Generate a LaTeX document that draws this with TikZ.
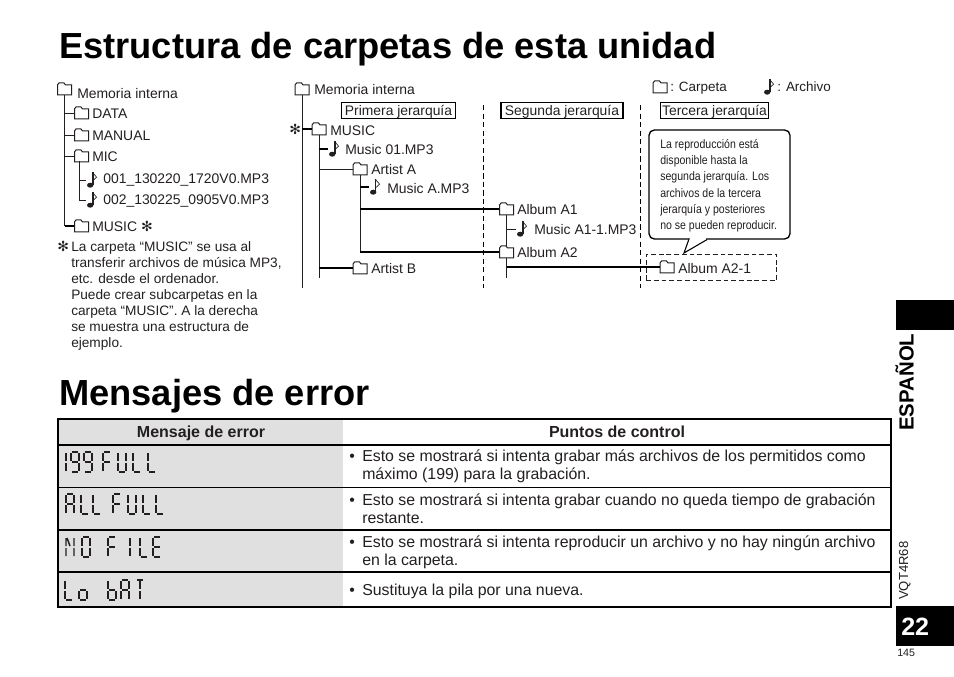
\documentclass[tikz,border=0pt]{standalone}
\usepackage{fontspec}
\setmainfont{Liberation Sans}
\newfontfamily\narrowfont[FakeStretch=0.86]{Liberation Sans}
\newfontfamily\symfont{DejaVu Sans}
\usetikzlibrary{calc}
\definecolor{inkcol}{HTML}{231F20}
\definecolor{cellgray}{HTML}{E0E0E0}
\tikzset{
    seg a/.style={insert path={(1,0)--(7,0)}},
    seg b/.style={insert path={(8,1)--(8,9)}},
    seg c/.style={insert path={(8,11)--(8,19)}},
    seg d/.style={insert path={(1,20)--(7,20)}},
    seg e/.style={insert path={(0,11)--(0,19)}},
    seg f/.style={insert path={(0,1)--(0,9)}},
    seg g/.style={insert path={(1,10)--(7,10)}},
    seg t/.style={insert path={(4,1)--(4,9) (4,11)--(4,19)}},
    seg n/.style={insert path={(1,1)--(4,9)}},
    lcd 1/.style={seg b,seg c},
    lcd 9/.style={seg a,seg b,seg c,seg d,seg f,seg g},
    lcd F/.style={seg a,seg e,seg f,seg g},
    lcd U/.style={seg b,seg c,seg d,seg e,seg f},
    lcd L/.style={seg d,seg e,seg f},
    lcd A/.style={seg a,seg b,seg c,seg e,seg f,seg g},
    lcd N/.style={seg b,seg c,seg e,seg f,seg n},
    lcd O/.style={seg a,seg b,seg c,seg d,seg e,seg f},
    lcd I/.style={seg t},
    lcd E/.style={seg a,seg d,seg e,seg f,seg g},
    lcd o/.style={seg c,seg d,seg e,seg g},
    lcd b/.style={seg c,seg d,seg e,seg f,seg g},
    lcd T/.style={seg a,seg t}
}
\newcommand{\lcdword}[2]{\foreach \cx/\ch in {#2}{\draw[lcdline,shift={(\cx,#1)},lcd \ch];}}
\newcommand{\folder}[2]{\node[foldbox] (#1) at #2 {};
    \draw[foldline,shift={(#1.center)}] (-7,6)--(-7,-4)--(-5.5,-6)--(-0.5,-6)--(1,-4)--(7,-4)--(7,6)--cycle;}
\newcommand{\notefile}[3][1]{\node[notebox] (#2) at #3 {};
    \fill[inkcol,shift={(#2.center)}] (-1.8,5.2) ellipse[x radius=3.2,y radius=2.5];
    \draw[inkcol,line width=#1pt,shift={(#2.center)}] (0.6,5.2)--(0.6,-7.5);
    \draw[inkcol,line width=0.5pt,shift={(#2.center)}] (0.6,-7.5)--(4.6,-2.8)--(0.6,0.8);}
\begin{document}
\begin{tikzpicture}[x=0.75pt,y=-0.75pt,
    title/.style={anchor=base west,inner sep=0,font=\fontsize{27.2}{30}\bfseries,text=black},
    treetext/.style={anchor=base west,inner sep=0,font=\fontsize{10.45}{12}\selectfont,text=inkcol},
    bodytext/.style={anchor=west,inner sep=0,align=left,font=\fontsize{11.9}{13.5}\selectfont,text=inkcol},
    headtext/.style={anchor=base,inner sep=0,font=\fontsize{12}{13}\bfseries,text=inkcol},
    levelbox/.style={draw=black,line width=0.8pt,inner sep=0,minimum height=12.5pt,text height=8.7pt,text depth=1.1pt,font=\fontsize{10.4}{12}\selectfont,text=inkcol},
    foldbox/.style={minimum width=10.5pt,minimum height=9pt,inner sep=0},
    notebox/.style={minimum width=9pt,minimum height=12pt,inner sep=0},
    foldline/.style={draw=inkcol,fill=white,line width=0.75pt},
    thinline/.style={draw=inkcol,line width=0.7pt},
    thickline/.style={draw=black,line width=1.4pt},
    lcdline/.style={draw=inkcol,line width=1.1pt},
    levelline/.style={draw=black,line width=0.7pt,dashed,dash pattern=on 4pt off 2.4pt},
    tablerule/.style={draw=black,line width=0.8pt},
    tableframe/.style={draw=black,line width=1.4pt}
]
    \useasboundingbox (0,0) rectangle (954,677);

    \node[title] (titletree) at (59,59) {Estructura de carpetas de esta unidad};
    \node[title] (titleerror) at (59,406) {Mensajes de error};

    % left tree
    \folder{memleft}{(64.5,89)}
    \folder{data}{(81.5,113)}
    \folder{manual}{(81.5,135)}
    \folder{mic}{(81.5,156)}
    \folder{musicleft}{(81.5,226)}
    \notefile[1.6]{fileone}{(92,180)}
    \notefile[1.6]{filetwo}{(92,200)}
    \coordinate (micdrop) at (79,161);
    \draw[thinline] (memleft.south)--(memleft.south |- musicleft.west);
    \draw[thinline] (memleft.south |- data.west)--(data.west);
    \draw[thinline] (memleft.south |- manual.west)--(manual.west);
    \draw[thinline] (memleft.south |- mic.west)--(mic.west);
    \draw[thickline] (memleft.south |- musicleft.west)--(musicleft.west);
    \draw[thinline] (micdrop)--(micdrop |- filetwo.west)--(filetwo.west);
    \draw[thinline] (micdrop |- fileone.west)--(fileone.west);
    \node[treetext] (memleftlabel) at (77,99) {Memoria interna};
    \node[treetext] (datalabel) at (92,119) {DATA};
    \node[treetext] (manuallabel) at (92,141) {MANUAL};
    \node[treetext] (miclabel) at (92,162) {MIC};
    \node[treetext] (fileonelabel) at (103,184) {001\_130220\_1720V0.MP3};
    \node[treetext] (filetwolabel) at (103,205) {002\_130225\_0905V0.MP3};
    \node[treetext] (musicleftlabel) at (92,232) {MUSIC {\symfont ✻}};
    \node[treetext] (starnote) at (57,252) {{\symfont ✻}};
    \node[treetext,align=left,anchor=north west,font=\fontsize{10.25}{12}\selectfont] (musicnote) at (71,241.5)
        {La carpeta “MUSIC” se usa al\\transferir archivos de música MP3,\\etc. desde el ordenador.\\
         Puede crear subcarpetas en la\\carpeta “MUSIC”. A la derecha\\se muestra una estructura de\\ejemplo.};

    % right tree
    \folder{memright}{(302,89)}
    \folder{musicright}{(319,129)}
    \folder{artista}{(360,169)}
    \folder{artistb}{(360,268)}
    \folder{albumone}{(506.5,209)}
    \folder{albumtwo}{(506.5,252)}
    \folder{albumthree}{(667,267)}
    \notefile[1.6]{musicfile}{(334,149)}
    \notefile{afile}{(375,187)}
    \notefile[1.6]{aonefile}{(522,229)}
    \coordinate (memend) at (302,288);
    \coordinate (musicend) at (319,278);
    \coordinate (albumend) at (506.5,278);
    \coordinate (levelonetop) at (483,105);
    \coordinate (levelonebot) at (483,288);
    \coordinate (leveltwotop) at (640,105);
    \coordinate (leveltwobot) at (640,288);
    \draw[levelline] (levelonetop)--(levelonebot);
    \draw[levelline] (leveltwotop)--(leveltwobot);
    \draw[thinline] (memright.south)--(memend);
    \draw[thickline] (memright.south |- musicright.west)--(musicright.west);
    \draw[thinline] (musicright.south)--(musicend);
    \draw[thickline] (musicright.south |- musicfile.west)--(musicfile.west);
    \draw[thinline] (musicright.south |- artista.west)--(artista.west);
    \draw[thickline] (musicright.south |- artistb.west)--(artistb.west);
    \draw[thinline] (artista.south)--(artista.south |- albumtwo.west);
    \draw[thickline] (artista.south |- afile.west)--(afile.west);
    \draw[thickline] (artista.south |- albumone.west)--(albumone.west);
    \draw[thickline] (artista.south |- albumtwo.west)--(albumtwo.west);
    \draw[thinline] (albumone.south)--(albumone.south |- albumtwo.north);
    \draw[thinline] (albumone.south |- aonefile.west)--(aonefile.west);
    \draw[thinline] (albumtwo.south)--(albumend);
    \draw[thickline] (albumtwo.south |- albumthree.west)--(albumthree.west);
    \node[treetext] (memrightlabel) at (314,95) {Memoria interna};
    \node[treetext] (starright) at (289,135) {{\symfont ✻}};
    \node[treetext] (musicrightlabel) at (330,136) {MUSIC};
    \node[treetext] (musicfilelabel) at (345,155) {Music 01.MP3};
    \node[treetext] (artistalabel) at (371,175) {Artist A};
    \node[treetext] (afilelabel) at (387,194) {Music A.MP3};
    \node[treetext] (albumonelabel) at (517,215) {Album A1};
    \node[treetext] (aonefilelabel) at (534,235) {Music A1-1.MP3};
    \node[treetext] (albumtwolabel) at (517,258) {Album A2};
    \node[treetext] (albumthreelabel) at (678,274) {Album A2-1};
    \node[treetext] (artistblabel) at (371,274) {Artist B};
    \node[levelbox,minimum width=86pt] (levelone) at (398.5,110.5) {Primera jerarquía};
    \node[levelbox,minimum width=91.5pt] (leveltwo) at (562,110.5) {Segunda jerarquía};
    \node[levelbox,minimum width=81.5pt] (levelthree) at (714.5,110.5) {Tercera jerarquía};
    \node[draw=inkcol,dashed,dash pattern=on 3.6pt off 2.2pt,line width=0.7pt,minimum width=98pt,minimum height=20pt,inner sep=0] (albumframe) at (711.5,267.5) {};

    % legend
    \folder{legendfolder}{(660,87)}
    \notefile[1.6]{legendfile}{(769,87)}
    \node[treetext,font=\fontsize{10.1}{12}\selectfont] (legendfolderlabel) at (670,91.5) {: Carpeta};
    \node[treetext,font=\fontsize{10.1}{12}\selectfont] (legendfilelabel) at (777,91.5) {: Archivo};

    % callout
    \draw[draw=black,fill=white,line width=1pt,rounded corners=4pt] (649,130) rectangle (790,239);
    \coordinate (tailtip) at (684,253);
    \draw[draw=white,line width=1.4pt] (689.5,239)--(706,239);
    \draw[draw=black,fill=white,line width=0.8pt] (689,239)--(tailtip)--(707,239.6);
    \node[inner sep=0,anchor=north west,align=left,text=inkcol,font=\narrowfont\fontsize{9.2}{12.2}\selectfont] (calloutext) at (660,139)
        {La reproducción está\\disponible hasta la\\segunda jerarquía. Los\\archivos de la tercera\\jerarquía y posteriores\\no se pueden reproducir.};

    % table
    \fill[cellgray] (58,419) rectangle (343,607);
    \draw[tablerule] (58,445)--(891,445);
    \draw[tablerule] (58,487.5)--(891,487.5);
    \draw[tableframe] (58,530)--(891,530);
    \draw[tablerule] (58,572)--(891,572);
    \draw[tableframe] (58,419) rectangle (891,607);
    \node[headtext] (headmessage) at (201,437) {Mensaje de error};
    \node[headtext] (headcheck) at (617,437) {Puntos de control};
    \foreach \rowname/\rowy/\rowtext in {
        full/466/{Esto se mostrará si intenta grabar más archivos de los permitidos como\\máximo (199) para la grabación.},
        time/509/{Esto se mostrará si intenta grabar cuando no queda tiempo de grabación\\restante.},
        file/552.5/{Esto se mostrará si intenta reproducir un archivo y no hay ningún archivo\\en la carpeta.},
        batt/591.5/{Sustituya la pila por una nueva.}}{
        \node[bodytext] (\rowname) at (362,\rowy) {\rowtext};
    }
    \node[bodytext,anchor=base west] (bulletfull) at (349,461) {•};
    \node[bodytext,anchor=base west] (bullettime) at (349,505) {•};
    \node[bodytext,anchor=base west] (bulletfile) at (349,547) {•};
    \node[bodytext,anchor=base west] (bulletbatt) at (349,595) {•};

    % lcd messages
    \lcdword{452}{58/1,71/9,84/9,103/F,118/U,133/L,148/L}
    \lcdword{494}{66/A,81/L,93/L,113/F,128/U,143/L,156/L}
    \lcdword{537}{66/N,82/O,108/F,126/I,140/L,153/E}
    \lcdword{580}{65/L,79/o,108/b,121/A,136/T}
    \node[opacity=0,inner sep=0,anchor=west,font=\fontsize{9}{10}\selectfont] (lcdfull) at (66,462) {199 FULL};
    \node[opacity=0,inner sep=0,anchor=west,font=\fontsize{9}{10}\selectfont] (lcdtime) at (66,504) {ALL FULL};
    \node[opacity=0,inner sep=0,anchor=west,font=\fontsize{9}{10}\selectfont] (lcdfile) at (66,547) {NO FILE};
    \node[opacity=0,inner sep=0,anchor=west,font=\fontsize{9}{10}\selectfont] (lcdbatt) at (66,590) {Lo bAT};

    % side tabs
    \fill[black] (896,300) rectangle (954,330);
    \fill[black] (896,606) rectangle (954,646);
    \node[rotate=90,anchor=base west,inner sep=0,text=black,font=\fontsize{15.3}{18}\bfseries] (language) at (913.5,431) {ESPAÑOL};
    \node[rotate=90,anchor=base west,inner sep=0,text=inkcol,font=\fontsize{9.8}{12}\selectfont] (doccode) at (908,600) {VQT4R68};
    \node[anchor=base west,inner sep=0,text=white,font=\fontsize{18.8}{20}\bfseries] (pagenumber) at (901,635) {22};
    \node[anchor=base west,inner sep=0,text=inkcol,font=\fontsize{8}{10}\selectfont] (printpage) at (897,656.5) {145};
\end{tikzpicture}
\end{document}
